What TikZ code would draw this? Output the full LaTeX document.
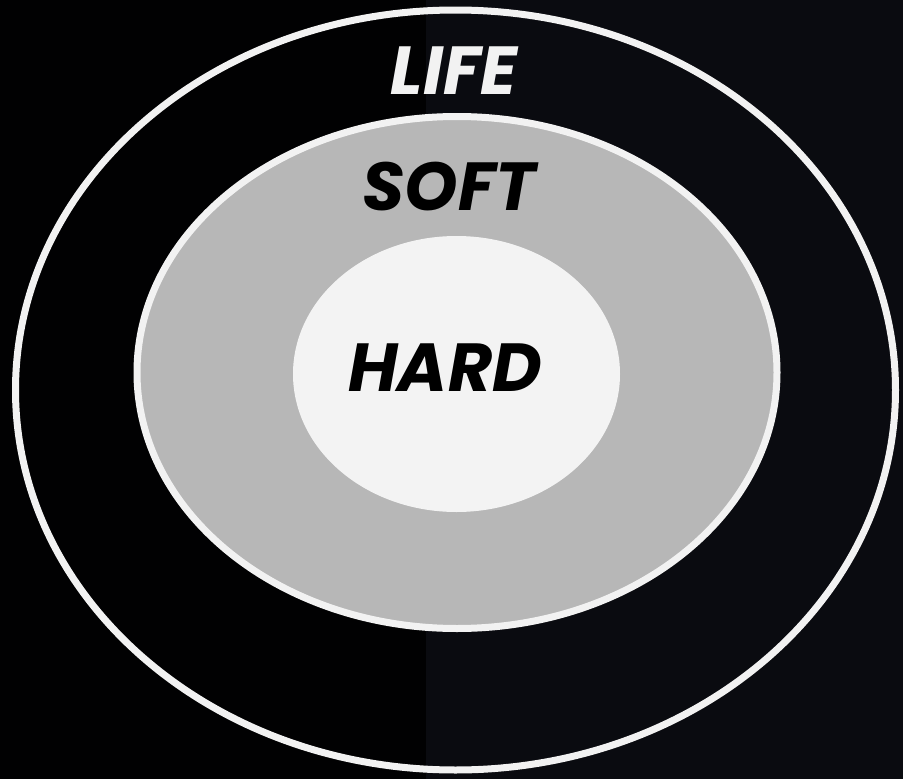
\documentclass[tikz,border=0pt]{standalone}
\usepackage{fontspec}
\setmainfont{Poppins}
\definecolor{bgleft}{HTML}{010102}
\definecolor{bgright}{HTML}{0A0B10}
\definecolor{ringwhite}{HTML}{F2F2F2}
\definecolor{midgrey}{HTML}{B7B7B7}
\definecolor{innerwhite}{HTML}{F3F3F3}
\begin{document}
\begin{tikzpicture}[x=1pt,y=-1pt,
  ring/.style={draw=ringwhite, line width=7pt},
  word/.style={font=\fontsize{68}{68}\selectfont\bfseries\itshape, inner sep=0pt, anchor=base}]
\useasboundingbox (0,0) rectangle (903,779);
\fill[bgleft] (0,0) rectangle (425.5,779);
\fill[bgright] (425.5,0) rectangle (903,779);
\draw[ring] (455.5,390) ellipse [x radius=440pt, y radius=380pt];
\draw[ring, fill=midgrey] (457,372.5) ellipse [x radius=320pt, y radius=256pt];
\fill[innerwhite] (456.5,374) ellipse [x radius=163.5pt, y radius=138pt];
\node[word, text=ringwhite] (life) at (454,94) {LIFE};
\node[word, text=black] (soft) at (449,210) {SOFT};
\node[word, text=black] (hard) at (445,391) {HARD};
\end{tikzpicture}
\end{document}
